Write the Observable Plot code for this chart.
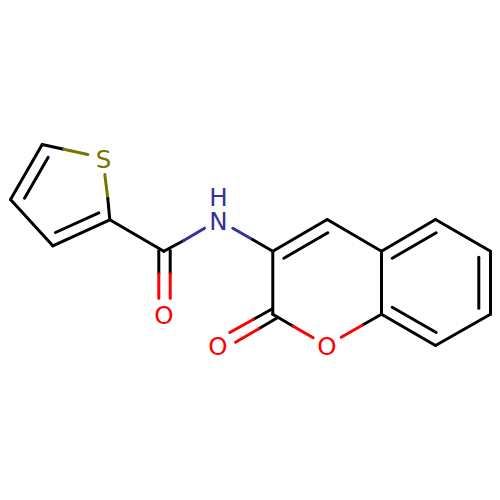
<!DOCTYPE html>
<html>
<head>
<meta charset="utf-8">
<style>html,body{margin:0;padding:0;background:#fff}svg{display:block}</style>
<script src="https://cdn.jsdelivr.net/npm/d3@7"></script>
<script src="https://cdn.jsdelivr.net/npm/@observablehq/plot@0.6"></script>
</head>
<body>
<div id="chart"></div>
<script>
const elements = ["C", "S", "N", "O"];
const elementColors = ["#000000", "#777700", "#333399", "#ff0000"];

// Bond segments, one per element colour: element, x1, y1, x2, y2
const seg = [
 ["C",41.7,144,10,199],["C",47.7,156.7,24,197.7],["C",10,199,52.3,245.3],["C",52.3,245.3,109.3,219.3],["C",55,232,98.3,212.3],
 ["C",41.7,144,63.3,148.7],["S",63.3,148.7,87.3,154],["S",104.3,174,107.3,198],["C",107.3,198,109.3,219.3],
 ["C",109.3,219.3,163.3,250.7],["C",163.3,250.7,183.3,240],["N",183.3,240,204,227.7],["N",232.3,227.7,252,239],["C",252,239,272.3,250.7],
 ["C",158.3,250,158.3,273.3],["O",158.3,273.3,158.3,297.7],["C",169.7,250,169.7,273.3],["O",169.7,273.3,169.7,297.7],
 ["C",272.3,250.7,326.7,219],["C",283.3,257.7,327.3,232.3],["C",326.7,219,381,250.7],["C",381,250.7,435,219],["C",391.7,257.7,435.7,232.3],
 ["C",435,219,490,250.7],["C",490,250.7,490,313.7],["C",478.3,256.7,478.3,307.7],["C",490,313.7,435,345],["C",435,345,381,313.7],["C",435.7,332,391.7,306.7],
 ["C",381,313.7,381,250.7],["C",381,313.7,361.7,324.7],["O",361.7,324.7,340.7,336.7],["C",272.3,250.7,272.3,313.7],["C",272.3,313.7,292.7,325.7],["O",292.7,325.7,312.7,337.3],
 ["C",272,308.3,252.7,319],["O",252.7,319,229.3,332],["C",277.3,317,258.3,328.3],["O",258.3,328.3,235,341.7]
];
const bondElements = seg.map(d => d[0]);
const bondX1s = seg.map(d => d[1]);
const bondY1s = seg.map(d => d[2]);
const bondX2s = seg.map(d => d[3]);
const bondY2s = seg.map(d => d[4]);

const labels = ["S","H","N","O","O","O"];
const labelElements = ["S","N","N","O","O","O"];
const labelX = [103,218,218,163.3,217.3,326.3];
const labelY = [159.7,197.4,221.2,316,347,346.7];

const plot = Plot.plot({
  width: 500, height: 500, margin: 0,
  x: {domain: [0,500], range: [0,500], axis: null},
  y: {domain: [0,500], range: [0,500], axis: null},
  color: {domain: elements, range: elementColors},
  marks: [
    Plot.link(bondElements.map((e,i)=>i), {
      x1: i=>bondX1s[i], y1: i=>bondY1s[i], x2: i=>bondX2s[i], y2: i=>bondY2s[i],
      stroke: i=>bondElements[i], strokeWidth: 3, strokeLinecap: "round"
    }),
    Plot.text(labels.map((e,i)=>i), {
      x: i=>labelX[i], y: i=>labelY[i], text: i=>labels[i],
      fill: i=>labelElements[i], fontSize: 24.5, fontFamily: "DejaVu Sans", textAnchor: "middle", lineAnchor: "middle"
    })
  ]
});
plot.style.background = "#fff";
document.getElementById("chart").append(plot);
</script>
</body>
</html>
